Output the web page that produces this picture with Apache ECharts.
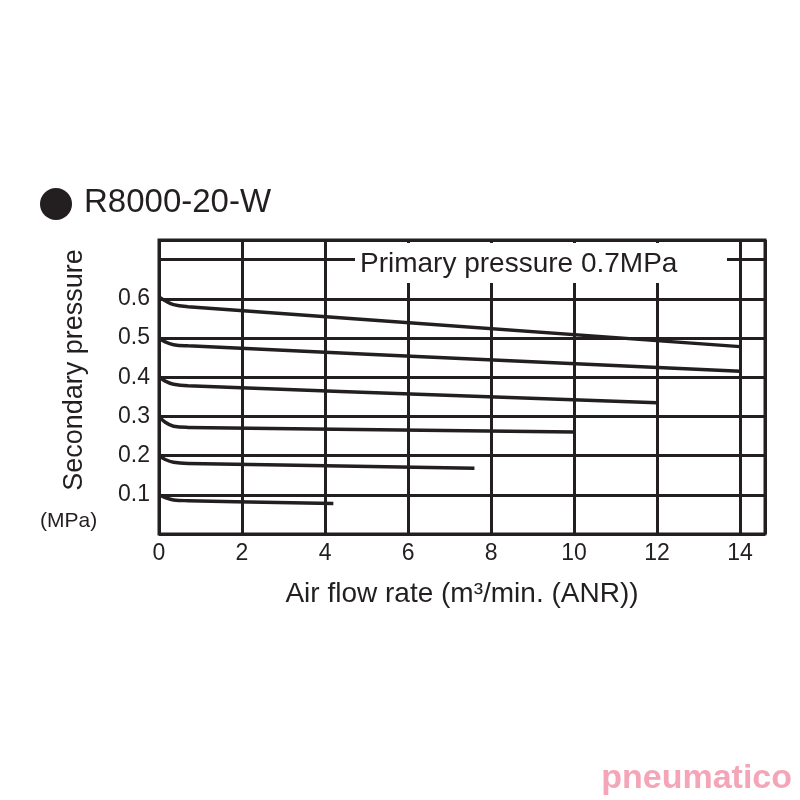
<!DOCTYPE html>
<html><head><meta charset="utf-8">
<script src="https://cdn.jsdelivr.net/npm/echarts@6/dist/echarts.min.js"></script>
<style>html,body{margin:0;background:#fff}#c{width:800px;height:800px}</style></head>
<body><div id="c"></div>
<script>
const xTicks = [0,2,4,6,8,10,12,14];
const yTickLabels = {1:'0.1',2:'0.2',3:'0.3',4:'0.4',5:'0.5',6:'0.6'};
const s06 = [[0,0.605],[0.15,0.595],[0.35,0.585],[0.7,0.58],[14,0.478]];
const s05 = [[0,0.5],[0.15,0.49],[0.35,0.483],[0.7,0.48],[14,0.415]];
const s04 = [[0,0.4],[0.15,0.39],[0.35,0.382],[0.7,0.378],[12,0.335]];
const s03 = [[0,0.3],[0.15,0.285],[0.35,0.275],[0.7,0.272],[10,0.26]];
const s02 = [[0,0.2],[0.15,0.19],[0.35,0.183],[0.7,0.18],[7.6,0.168]];
const s01 = [[0,0.1],[0.15,0.093],[0.35,0.087],[0.7,0.085],[4.2,0.078]];
const allSeries = [s06,s05,s04,s03,s02,s01];
const chart = echarts.init(document.getElementById('c'));
const F = 'Arial, "Liberation Sans", sans-serif';
chart.setOption({
  animation:false,
  grid:{left:159,right:35,top:240,bottom:266,show:true,borderColor:'#231f20',borderWidth:3},
  xAxis:{type:'value',min:0,max:14.6,interval:2,
    axisLine:{show:false},axisTick:{show:false},
    splitLine:{show:true,lineStyle:{color:'#231f20',width:3}},
    axisLabel:{fontFamily:F,fontSize:23,color:'#231f20',margin:8,
      formatter:v=>xTicks.includes(v)?String(v):'',showMaxLabel:false},
    name:'Air flow rate (m³/min. (ANR))',nameLocation:'middle',nameGap:46,
    nameTextStyle:{fontFamily:F,fontSize:28,color:'#231f20'}},
  yAxis:{type:'value',min:0,max:0.75,interval:0.1,
    axisLine:{show:false},axisTick:{show:false},
    splitLine:{show:true,lineStyle:{color:'#231f20',width:3}},
    axisLabel:{fontFamily:F,fontSize:23,color:'#231f20',margin:9,
      formatter:v=>{const k=Math.round(v*10);return Math.abs(v*10-k)<1e-6&&yTickLabels[k]?yTickLabels[k]:'';}}},
  series: allSeries.map(d=>({type:'line',data:d,smooth:0.4,showSymbol:false,
    lineStyle:{color:'#231f20',width:3.5}})),
  graphic:[
    {type:'rect',shape:{x:355,y:243,width:372,height:40},style:{fill:'#fff'},z:100},
    {type:'text',left:360,top:250,style:{text:'Primary pressure 0.7MPa',font:'28px '+F,fill:'#231f20'},z:101},
    {type:'text',x:75,y:370,rotation:Math.PI/2,style:{text:'Secondary pressure',font:'27px '+F,fill:'#231f20',align:'center',verticalAlign:'middle'},z:101},
    {type:'text',left:40,top:511,style:{text:'(MPa)',font:'21px '+F,fill:'#231f20'},z:101},
    {type:'circle',shape:{cx:56,cy:204,r:16},style:{fill:'#231f20'},z:101},
    {type:'text',left:84,top:186,style:{text:'R8000-20-W',font:'33px '+F,fill:'#231f20'},z:101},
    {type:'text',right:8,top:762,style:{text:'pneumatico',font:'bold 34px '+F,fill:'#f4a6b8'},z:101}
  ]
});
</script></body></html>
